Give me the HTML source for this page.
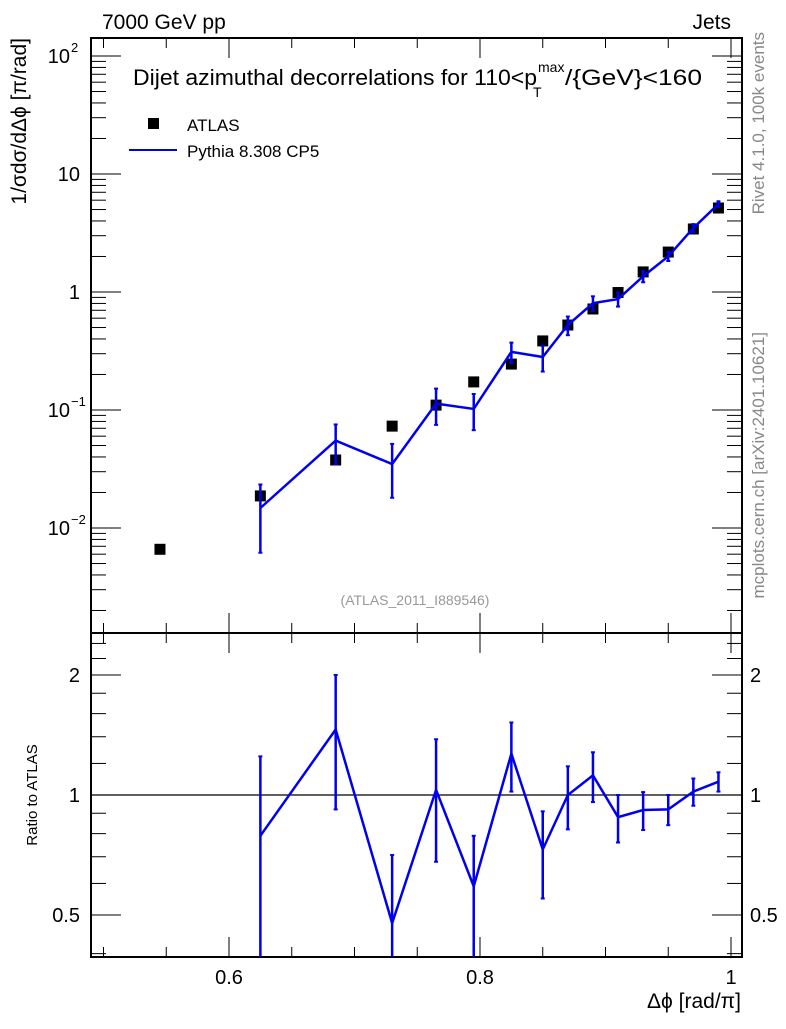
<!DOCTYPE html>
<html><head><meta charset="utf-8"><style>
body{margin:0;background:#fff;}
svg text{font-family:"Liberation Sans",sans-serif;}
</style></head><body>
<svg id="chart" width="786" height="1024" xmlns="http://www.w3.org/2000/svg">
<g id="g"></g>
</svg>
<script>
const xs=[0.545,0.625,0.685,0.73,0.765,0.795,0.825,0.85,0.87,0.89,0.91,0.93,0.95,0.97,0.99];
const atlas=[0.0066,0.0187,0.0377,0.073,0.110,0.173,0.245,0.385,0.525,0.718,0.99,1.48,2.18,3.42,5.15];
const ratio=[null,0.79,1.46,0.477,1.03,0.59,1.27,0.73,1.0,1.12,0.88,0.917,0.92,1.02,1.08];
const ratioErr=[null,0.46,0.54,0.23,0.35,0.2,0.25,0.18,0.18,0.16,0.12,0.1,0.08,0.08,0.06];
const xTicks=[0.6,0.8,1];
const xTickLabels=["0.6","0.8","1"];
const ratioTicks=[0.5,1,2];
const ratioTickLabels=["0.5","1","2"];

const L=91,R=742,T=38,M=633,B=957;
const X=v=>229+(v-0.6)*1255;
const Y=v=>292-118*Math.log10(v);
const RY=r=>795-120*Math.log2(r);
const g=document.getElementById('g');
const NS='http://www.w3.org/2000/svg';
function el(t,a,txt,parent){const e=document.createElementNS(NS,t);for(const k in a)e.setAttribute(k,a[k]);if(txt!==undefined)e.textContent=txt;(parent||g).appendChild(e);return e;}
function line(x1,y1,x2,y2,c,w){return el('line',{x1,y1,x2,y2,stroke:c||'#000','stroke-width':w||1});}

let f=el('rect',{x:L,y:T,width:R-L,height:M-T,fill:'none',stroke:'#000','stroke-width':2});

f=el('rect',{x:L,y:M,width:R-L,height:B-M,fill:'none',stroke:'#000','stroke-width':2});


for(let v=0.5;v<=1.001;v+=0.05){
  const x=X(v);const major=Math.abs(v*10-Math.round(v*10))<1e-6&&Math.round(v*10)%2==0;
  const len=major?20:10;
  line(x,T,x,T+len);line(x,M,x,M-len);line(x,M,x,M+len);line(x,B,x,B-len);
}
xTicks.forEach((v,i)=>{const t=el('text',{x:X(v),y:984,'font-size':20,'text-anchor':'middle'},xTickLabels[i]);
});
let t=el('text',{x:741,y:1008,'font-size':21,'text-anchor':'end'},'Δϕ [rad/π]');


for(let d=-3;d<=2;d++){
  for(let m=1;m<=9;m++){
    const v=m*Math.pow(10,d);const y=Y(v);if(y<T||y>M)continue;
    const len=m==1?30:15;line(L,y,L+len,y);line(R,y,R-len,y);
  }
}
[[2,'10','2'],[1,'10',null],[0,'1',null],[-1,'10','−1'],[-2,'10','−2']].forEach(([d,b,e])=>{
  const y=Y(Math.pow(10,d));
  const tx=el('text',{x:e?70:80,y:y+7,'font-size':20,'text-anchor':'end'},b);
  
  if(e){el('text',{x:71,y:y-4,'font-size':13},e);}
});
t=el('text',{x:0,y:0,'font-size':21,'text-anchor':'end',transform:'translate(26,38) rotate(-90)'},'1/σdσ/dΔϕ [π/rad]');


for(const r of [0.4,0.5,0.6,0.7,0.8,0.9,1,1.2,1.4,1.6,1.8,2,2.2,2.4]){
  const y=RY(r);if(y<M||y>B)continue;const len=(r==0.5||r==1||r==2)?30:15;
  line(L,y,L+len,y);line(R,y,R-len,y);
}
ratioTicks.forEach((r,i)=>{
  let a=el('text',{x:80,y:RY(r)+7,'font-size':20,'text-anchor':'end'},ratioTickLabels[i]);
  
  a=el('text',{x:750,y:RY(r)+7,'font-size':20},ratioTickLabels[i]);
  
});
t=el('text',{x:0,y:0,'font-size':15,'text-anchor':'middle',transform:'translate(37,795) rotate(-90)'},'Ratio to ATLAS');

line(L,RY(1),R,RY(1),'#000',1.3);

t=el('text',{x:102,y:29,'font-size':21},'7000 GeV pp');
t=el('text',{x:731,y:29,'font-size':21,'text-anchor':'end'},'Jets');
t=el('text',{x:133,y:85,'font-size':22,textLength:404,lengthAdjust:'spacingAndGlyphs'},'Dijet azimuthal decorrelations for 110<p');
el('text',{x:538,y:72,'font-size':14},'max');
el('text',{x:533,y:97,'font-size':14},'T');
el('text',{x:565,y:85,'font-size':22,textLength:137,lengthAdjust:'spacingAndGlyphs'},'/{GeV}<160');
t=el('text',{x:415,y:605,'font-size':14,fill:'#999','text-anchor':'middle'},'(ATLAS_2011_I889546)');
t=el('text',{x:0,y:0,'font-size':17,fill:'#888','text-anchor':'end',transform:'translate(764,32) rotate(-90)'},'Rivet 4.1.0,  100k events');
t=el('text',{x:0,y:0,'font-size':17,fill:'#888','text-anchor':'end',transform:'translate(764,332) rotate(-90)'},'mcplots.cern.ch [arXiv:2401.10621]');

let lg=el('rect',{x:148,y:118,width:11,height:11,fill:'#000'});
t=el('text',{x:187,y:131,'font-size':17},'ATLAS');
lg=line(129,150,177,150,'#0000ee',2);
t=el('text',{x:187,y:157,'font-size':17},'Pythia 8.308 CP5');

xs.forEach((x,i)=>{const m=el('rect',{x:X(x)-5.5,y:Y(atlas[i])-5.5,width:11,height:11,fill:'#000'});
});

const blue='#0000ee';
let pts=[];
xs.forEach((x,i)=>{if(ratio[i]==null)return;const mc=atlas[i]*ratio[i];pts.push(X(x)+','+Y(mc));
  const lo=Math.max(atlas[i]*(ratio[i]-ratioErr[i]),1e-4),hi=atlas[i]*(ratio[i]+ratioErr[i]);
  const y1=Math.min(Y(lo),M),y2=Y(hi);
  const e=line(X(x),y1,X(x),y2,blue,2.5);
  line(X(x)-2,y1,X(x)+2,y1,blue,2);line(X(x)-2,y2,X(x)+2,y2,blue,2);
});
let p=el('polyline',{points:pts.join(' '),fill:'none',stroke:blue,'stroke-width':2.5});


pts=[];
xs.forEach((x,i)=>{if(ratio[i]==null)return;pts.push(X(x)+','+RY(ratio[i]));
  const lo=ratio[i]-ratioErr[i],hi=ratio[i]+ratioErr[i];
  const y1=Math.min(RY(Math.max(lo,0.01)),B),y2=RY(hi);
  const e=line(X(x),y1,X(x),y2,blue,2.5);
  if(y1<B)line(X(x)-2,y1,X(x)+2,y1,blue,2);line(X(x)-2,y2,X(x)+2,y2,blue,2);
});
p=el('polyline',{points:pts.join(' '),fill:'none',stroke:blue,'stroke-width':2.5});

</script>
</body></html>
